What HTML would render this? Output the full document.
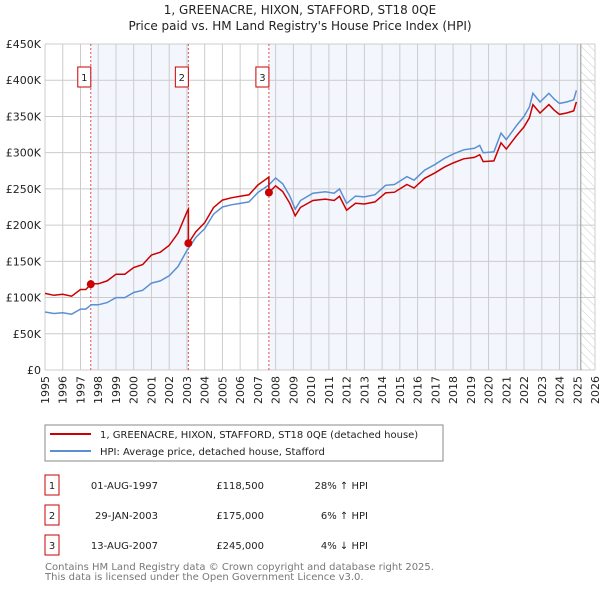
<!DOCTYPE html>
<html><head><meta charset="utf-8"><style>
body{margin:0;background:#fff;width:600px;height:590px;overflow:hidden;font-family:"DejaVu Sans","Liberation Sans",sans-serif}
</style></head><body>
<svg id="c" width="600" height="590" xmlns="http://www.w3.org/2000/svg" font-family="DejaVu Sans, Liberation Sans, sans-serif">
<defs><pattern id="hatch" width="6" height="6" patternUnits="userSpaceOnUse" patternTransform="rotate(-45)"><line x1="0" y1="0" x2="0" y2="6" stroke="#ccc" stroke-width="1"/></pattern></defs>
<text x="300" y="14" font-size="12" text-anchor="middle" fill="#222">1, GREENACRE, HIXON, STAFFORD, ST18 0QE</text>
<text x="300" y="30" font-size="12" text-anchor="middle" fill="#222">Price paid vs. HM Land Registry's House Price Index (HPI)</text>
<g id="plot"></g>
<rect x="45" y="425" width="398" height="36" fill="#fff" stroke="#888"/>
<line x1="50" y1="434" x2="91" y2="434" stroke="#cc0000" stroke-width="2"/>
<text x="100" y="438" font-size="10" fill="#222">1, GREENACRE, HIXON, STAFFORD, ST18 0QE (detached house)</text>
<line x1="50" y1="451" x2="91" y2="451" stroke="#5b8fd4" stroke-width="2"/>
<text x="100" y="455" font-size="10" fill="#222">HPI: Average price, detached house, Stafford</text>
<g id="table" font-size="10" fill="#222"></g>
<text x="45" y="570" font-size="10" fill="#777">Contains HM Land Registry data © Crown copyright and database right 2025.</text>
<text x="45" y="580" font-size="10" fill="#777">This data is licensed under the Open Government Licence v3.0.</text>
</svg>
<script>
const hpiYears=[1995,1995.5,1996,1996.5,1997,1997.3,1997.6,1998,1998.5,1999,1999.5,2000,2000.5,2001,2001.5,2002,2002.5,2003,2003.5,2004,2004.5,2005,2005.5,2006,2006.5,2007,2007.3,2007.6,2008,2008.4,2008.8,2009.1,2009.4,2010.1,2010.8,2011.3,2011.6,2012,2012.5,2013,2013.6,2014.2,2014.7,2015.4,2015.8,2016.4,2017,2017.5,2018,2018.6,2019.2,2019.5,2019.7,2020.3,2020.7,2021,2021.6,2022,2022.3,2022.5,2022.9,2023.4,2023.7,2024,2024.4,2024.8,2024.95];
const hpiValues=[80,78,79,77,84,84,90,90,93,100,100,107,110,120,123,130,143,165,183,195,215,225,228,230,232,245,250,255,265,257,240,222,234,244,246,244,250,230,240,239,242,255,256,267,262,276,284,292,298,304,306,310,300,301,327,318,338,350,363,382,370,382,374,368,370,373,386];
const saleYears=[1997.58,2003.08,2007.62];
const salePrices=[118.5,175,245];
const saleDates=["01-AUG-1997","29-JAN-2003","13-AUG-2007"];
const saleLabels=["£118,500","£175,000","£245,000"];
const saleDiffs=["28% ↑ HPI","6% ↑ HPI","4% ↓ HPI"];
const yTicks=[0,50,100,150,200,250,300,350,400,450];
const yTickLabels=["£0","£50K","£100K","£150K","£200K","£250K","£300K","£350K","£400K","£450K"];
const ns="http://www.w3.org/2000/svg";
const X0=45,X1=595,Y0=370,Y1=44,yr0=1995,yr1=2026,vmax=450;
const xs=y=>X0+(y-yr0)/(yr1-yr0)*(X1-X0);
const ys=v=>Y0-v/vmax*(Y0-Y1);
const g=document.getElementById('plot');
function mk(t,a,p){const e=document.createElementNS(ns,t);for(const k in a)e.setAttribute(k,a[k]);(p||g).appendChild(e);return e;}
function hpiAt(y){for(let i=0;i<hpiYears.length-1;i++){if(y<=hpiYears[i+1]){const f=(y-hpiYears[i])/(hpiYears[i+1]-hpiYears[i]);return hpiValues[i]+f*(hpiValues[i+1]-hpiValues[i]);}}return hpiValues[hpiValues.length-1];}
let r;
r=mk('rect',{x:X0,y:Y1,width:X1-X0,height:Y0-Y1,fill:'#fff'});

r=mk('rect',{x:xs(saleYears[0]),y:Y1,width:xs(saleYears[1])-xs(saleYears[0]),height:Y0-Y1,fill:'#f3f6fd'});

r=mk('rect',{x:xs(saleYears[2]),y:Y1,width:xs(2025.2)-xs(saleYears[2]),height:Y0-Y1,fill:'#f3f6fd'});

r=mk('rect',{x:xs(2025.2),y:Y1,width:X1-xs(2025.2),height:Y0-Y1,fill:'url(#hatch)'});

for(let y=yr0;y<=yr1;y++){const x=xs(y);
 r=mk('line',{x1:x,y1:Y1,x2:x,y2:Y0,stroke:'#ccc','stroke-width':1});
 
 r=mk('text',{x:0,y:0,'font-size':11,'text-anchor':'end',fill:'#222',transform:'translate('+(x+4)+','+(Y0+6)+') rotate(-90)'});r.textContent=y;
 }
yTicks.forEach((v,i)=>{const y=ys(v);
 r=mk('line',{x1:X0,y1:y,x2:X1,y2:y,stroke:'#ccc','stroke-width':1});
 
 r=mk('text',{x:X0-4,y:y+4,'font-size':11,'text-anchor':'end',fill:'#222'});r.textContent=yTickLabels[i];
 });
r=mk('line',{x1:xs(2025.2),y1:Y1,x2:xs(2025.2),y2:Y0,stroke:'#999','stroke-width':1});

saleYears.forEach((s,i)=>{const x=xs(s);
 r=mk('line',{x1:x,y1:Y1,x2:x,y2:Y0,stroke:'#e05050','stroke-width':1,'stroke-dasharray':'2,2'});
 
 r=mk('rect',{x:x-13,y:67,width:13,height:20,fill:'#fff',stroke:'#cc0000'});
 
 r=mk('text',{x:x-6.5,y:81,'font-size':10,'text-anchor':'middle',fill:'#222'});r.textContent=i+1;
 });
let pts=[];
function ratioAt(y){let k=0;for(let i=0;i<saleYears.length;i++)if(y>=saleYears[i])k=i;return salePrices[k]/hpiAt(saleYears[k]);}
let samples=hpiYears.concat(saleYears).sort((a,b)=>a-b);
samples.forEach(y=>{pts.push(xs(y).toFixed(1)+','+ys(hpiAt(y)).toFixed(1));});
r=mk('polyline',{points:pts.join(' '),fill:'none',stroke:'#5b8fd4','stroke-width':1.5});

let rp=[];
samples.forEach((y,j)=>{
 if(saleYears.includes(y)&&j>0){const k=saleYears.indexOf(y);const prev=k===0?salePrices[0]/hpiAt(saleYears[0]):salePrices[k-1]/hpiAt(saleYears[k-1]);rp.push(xs(y).toFixed(1)+','+ys(hpiAt(y)*prev).toFixed(1));}
 rp.push(xs(y).toFixed(1)+','+ys(hpiAt(y)*ratioAt(y)).toFixed(1));});
r=mk('polyline',{points:rp.join(' '),fill:'none',stroke:'#cc0000','stroke-width':1.5});

saleYears.forEach((s,i)=>{
 r=mk('circle',{cx:xs(s),cy:ys(salePrices[i]),r:4,fill:'#cc0000'});
 });
const t=document.getElementById('table');
saleYears.forEach((s,i)=>{const y=475+i*30;
 r=mk('rect',{x:45,y:y,width:14,height:20,fill:'#fff',stroke:'#cc0000'},t);
 
 r=mk('text',{x:52,y:y+14,'text-anchor':'middle'},t);r.textContent=i+1;
 
 r=mk('text',{x:158,y:y+14,'text-anchor':'end'},t);r.textContent=saleDates[i];
 
 r=mk('text',{x:264,y:y+14,'text-anchor':'end'},t);r.textContent=saleLabels[i];
 
 r=mk('text',{x:368,y:y+14,'text-anchor':'end'},t);r.textContent=saleDiffs[i];
 });
</script>
</body></html>
